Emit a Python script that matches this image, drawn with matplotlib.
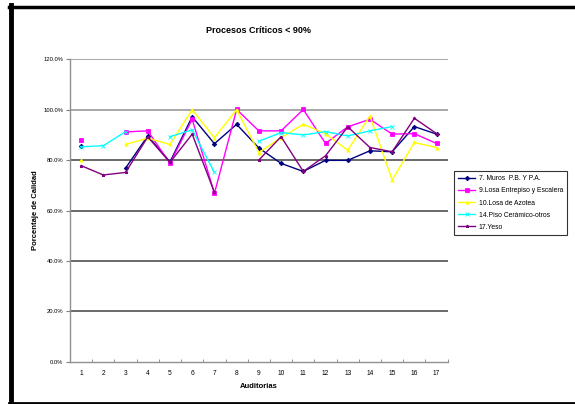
import numpy as np
import matplotlib

matplotlib.use("Agg")
import matplotlib.pyplot as plt
from matplotlib.lines import Line2D

nan = np.nan

auditorias = list(range(1, 18))
muros = [85.4, nan, 76.8, 89.6, 79.3, 97.2, 86.5, 94.2, 84.8, 78.7, 75.5, 79.9, 79.9, 83.7, 83.3, 93.3, 90.3]
entrepiso = [87.9, nan, 91.2, 91.6, 78.7, 96.2, 66.8, 100.1, 91.6, 91.6, 100.1, 86.6, 93.2, 96.2, 90.3, 90.5, 86.6]
azotea = [80.0, nan, 86.2, 88.7, 86.2, 100.0, 88.9, 100.0, 83.0, 88.9, 94.2, 90.5, 83.9, 97.5, 72.1, 87.0, 85.0]
ceramico = [85.3, 85.7, 91.3, nan, 89.3, 92.0, 75.1, nan, 87.5, 90.9, 90.0, 91.3, 89.6, 91.6, 93.3, nan, nan]
yeso = [77.8, 74.1, 75.1, 89.2, 79.1, 90.3, 67.2, nan, 80.0, 89.3, 75.5, 81.7, 93.2, 85.0, 83.3, 96.6, 90.5]

series = [
    ("7. Muros  P.B. Y P.A.", muros, "#000080", "D"),
    ("9.Losa Entrepiso y Escalera", entrepiso, "#ff00ff", "s"),
    ("10.Losa de Azotea", azotea, "#ffff00", "^"),
    ("14.Piso Cerámico-otros", ceramico, "#00ffff", "x"),
    ("17.Yeso", yeso, "#800080", "*"),
]

plt.rcParams["font.family"] = ["Liberation Sans", "DejaVu Sans"]

fig = plt.figure(figsize=(5.75, 4.04), dpi=100)
fig.patch.set_facecolor("white")
ax = fig.add_axes([70 / 575, 1 - 361.7 / 404, 377.7 / 575, 302.4 / 404])

x = np.array(auditorias)
for label, values, color, marker in series:
    ax.plot(x, values, color=color, linewidth=1.0, marker=marker, markersize=2.3,
            markeredgewidth=0.6, label=label, zorder=3)

ax.set_xlim(0.5, 17.5)
ax.set_ylim(0, 120)

for v in range(20, 121, 20):
    col = "#9a9a9a" if v >= 100 else "#505050"
    ax.axhline(v, color=col, linewidth=1.2, zorder=1)

ax.set_yticks(range(0, 121, 20))
ax.set_yticklabels([f"{v:.1f}%" for v in range(0, 121, 20)], fontsize=4.2)
ax.set_xticks(x)
ax.set_xticklabels([str(v) for v in auditorias], fontsize=4.8)
ax.set_xticks(np.arange(0.5, 18, 1), minor=True)
ax.tick_params(axis="x", which="major", length=0, pad=6)
ax.tick_params(axis="x", which="minor", length=2, color="#808080", direction="in")
ax.tick_params(axis="y", length=3, color="#808080", pad=2)

for side in ["top", "right"]:
    ax.spines[side].set_visible(False)
for side in ["left", "bottom"]:
    ax.spines[side].set_color("#909090")
    ax.spines[side].set_linewidth(1.0)

ax.set_title("Procesos Críticos < 90%", fontsize=6.5, fontweight="bold", pad=19)
ax.set_xlabel("Auditorias", fontsize=5.5, fontweight="bold", labelpad=4)
ax.set_ylabel("Porcentaje de Calidad", fontsize=5.5, fontweight="bold", labelpad=3)

leg = ax.legend(loc="center left", bbox_to_anchor=(451 / 575, 1 - 203 / 404),
                bbox_transform=fig.transFigure, fontsize=4.9, frameon=True,
                fancybox=False, edgecolor="black", handlelength=2.4,
                borderpad=0.6, labelspacing=0.75, handletextpad=0.6)
leg.get_frame().set_linewidth(0.8)

# outer frame of the chart object
fig.add_artist(Line2D([11 / 575, 11 / 575], [0, 1 - 5 / 404], transform=fig.transFigure,
                      color="black", linewidth=3.5))
fig.add_artist(Line2D([9 / 575, 1], [1 - 6.5 / 404, 1 - 6.5 / 404], transform=fig.transFigure,
                      color="black", linewidth=2.5))
fig.add_artist(Line2D([9 / 575, 1], [1.5 / 404, 1.5 / 404], transform=fig.transFigure,
                      color="black", linewidth=2.0))

fig.savefig("out.png", dpi=100)
